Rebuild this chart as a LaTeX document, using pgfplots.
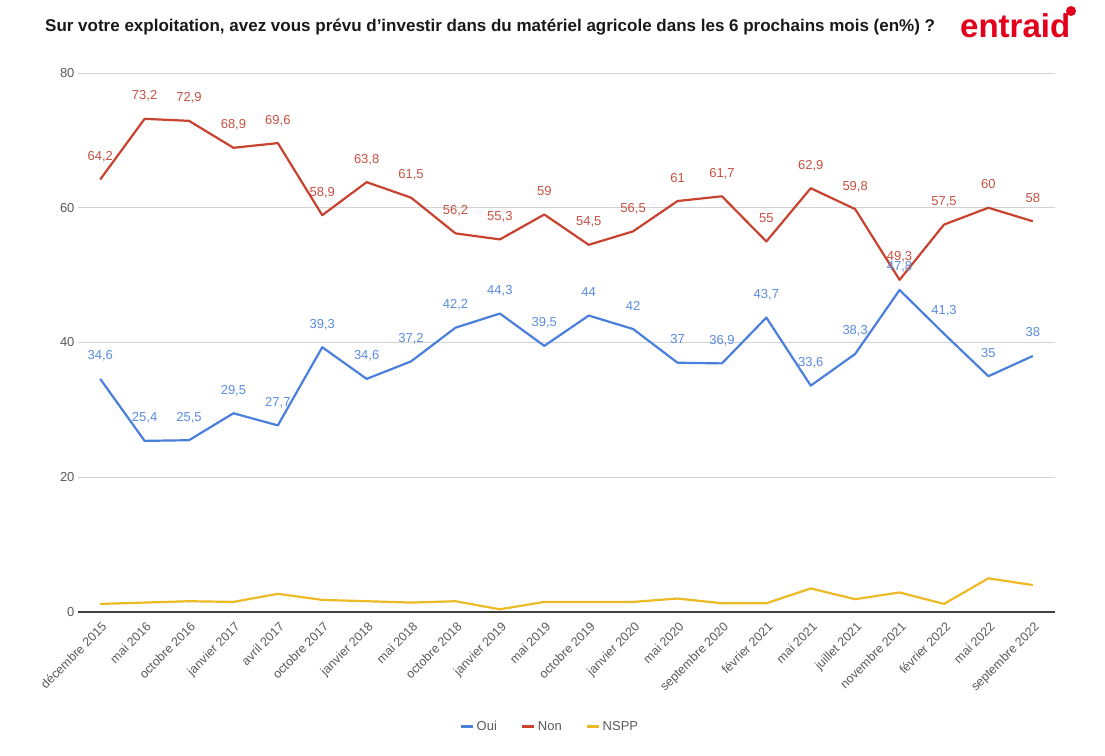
\documentclass[border=0pt]{standalone}
\usepackage{pgfplots}
\pgfplotsset{compat=1.18}
\usepackage{fontspec}
\setmainfont{Liberation Sans}
\definecolor{oui}{RGB}{74,128,220}
\definecolor{non}{RGB}{200,66,48}
\definecolor{nspp}{RGB}{236,186,36}
\definecolor{ouilab}{RGB}{90,140,225}
\definecolor{nonlab}{RGB}{200,80,65}
\definecolor{gridc}{RGB}{210,210,210}
\definecolor{tickc}{RGB}{90,90,90}
\definecolor{logored}{RGB}{226,0,26}
\begin{document}
\begin{tikzpicture}[x=1pt,y=1pt]
\path (0,0) rectangle (1105,-755);
\node[anchor=west,font=\fontsize{17}{20}\selectfont\bfseries,text=black!90,inner sep=0pt] at (45,-27) {Sur votre exploitation, avez vous prévu d'investir dans du matériel agricole dans les 6 prochains mois (en\%) ?};
\node[anchor=west,font=\fontsize{33}{36}\selectfont\bfseries,text=logored,inner sep=0pt] at (960,-26) {entraid};
\fill[logored] (1071,-11) circle (5);
\begin{axis}[
  at={(78pt,-612pt)}, anchor=south west,
  scale only axis, width=977pt, height=539pt,
  xmin=-0.5, xmax=21.5, ymin=0, ymax=80,
  ytick={0,20,40,60,80},
  xtick={0,...,21},
  xticklabels={décembre 2015,mai 2016,octobre 2016,janvier 2017,avril 2017,octobre 2017,janvier 2018,mai 2018,octobre 2018,janvier 2019,mai 2019,octobre 2019,janvier 2020,mai 2020,septembre 2020,février 2021,mai 2021,juillet 2021,novembre 2021,février 2022,mai 2022,septembre 2022},
  x tick label style={rotate=45, anchor=north east, font=\fontsize{12.5}{14}\selectfont, text=tickc, inner sep=1pt, xshift=-5pt, yshift=-6pt},
  y tick label style={font=\fontsize{13}{15}\selectfont, text=tickc},
  /pgf/number format/assume math mode=true,
  ymajorgrids, grid style={gridc, line width=0.8pt},
  axis line style={draw=none},
  major tick length=0pt,
  clip=false,
  legend style={at={(0.483,-0.213)}, anchor=center, draw=none, font=\fontsize{13}{15}\selectfont, text=tickc, legend columns=3, /tikz/every even column/.append style={column sep=22pt}},
  legend image code/.code={\draw[#1, line width=3pt] (0pt,0pt) -- (12pt,0pt);},
  nodes near coords={\pgfmathprintnumber[use comma]{\pgfplotspointmeta}},
  every node near coord/.append style={anchor=base, yshift=19pt, font=\fontsize{13}{15}\selectfont},
]
\draw[black!75, line width=1.2pt] (axis cs:-0.5,0) -- (axis cs:21.5,0);
\addplot[oui, line width=2.2pt, line join=round, every node near coord/.append style={text=ouilab}] coordinates {
(0,34.6)(1,25.4)(2,25.5)(3,29.5)(4,27.7)(5,39.3)(6,34.6)(7,37.2)(8,42.2)(9,44.3)(10,39.5)(11,44)(12,42)(13,37)(14,36.9)(15,43.7)(16,33.6)(17,38.3)(18,47.8)(19,41.3)(20,35)(21,38)};
\addlegendentry{Oui}
\addplot[non, line width=2.2pt, line join=round, every node near coord/.append style={text=nonlab}] coordinates {
(0,64.2)(1,73.2)(2,72.9)(3,68.9)(4,69.6)(5,58.9)(6,63.8)(7,61.5)(8,56.2)(9,55.3)(10,59)(11,54.5)(12,56.5)(13,61)(14,61.7)(15,55)(16,62.9)(17,59.8)(18,49.3)(19,57.5)(20,60)(21,58)};
\addlegendentry{Non}
\addplot[nspp, line width=2.2pt, line join=round, nodes near coords={}] coordinates {
(0,1.2)(1,1.4)(2,1.6)(3,1.5)(4,2.7)(5,1.8)(6,1.6)(7,1.4)(8,1.6)(9,0.4)(10,1.5)(11,1.5)(12,1.5)(13,2.0)(14,1.3)(15,1.3)(16,3.5)(17,1.9)(18,2.9)(19,1.2)(20,5.0)(21,4.0)};
\addlegendentry{NSPP}
\end{axis}
\end{tikzpicture}
\end{document}
